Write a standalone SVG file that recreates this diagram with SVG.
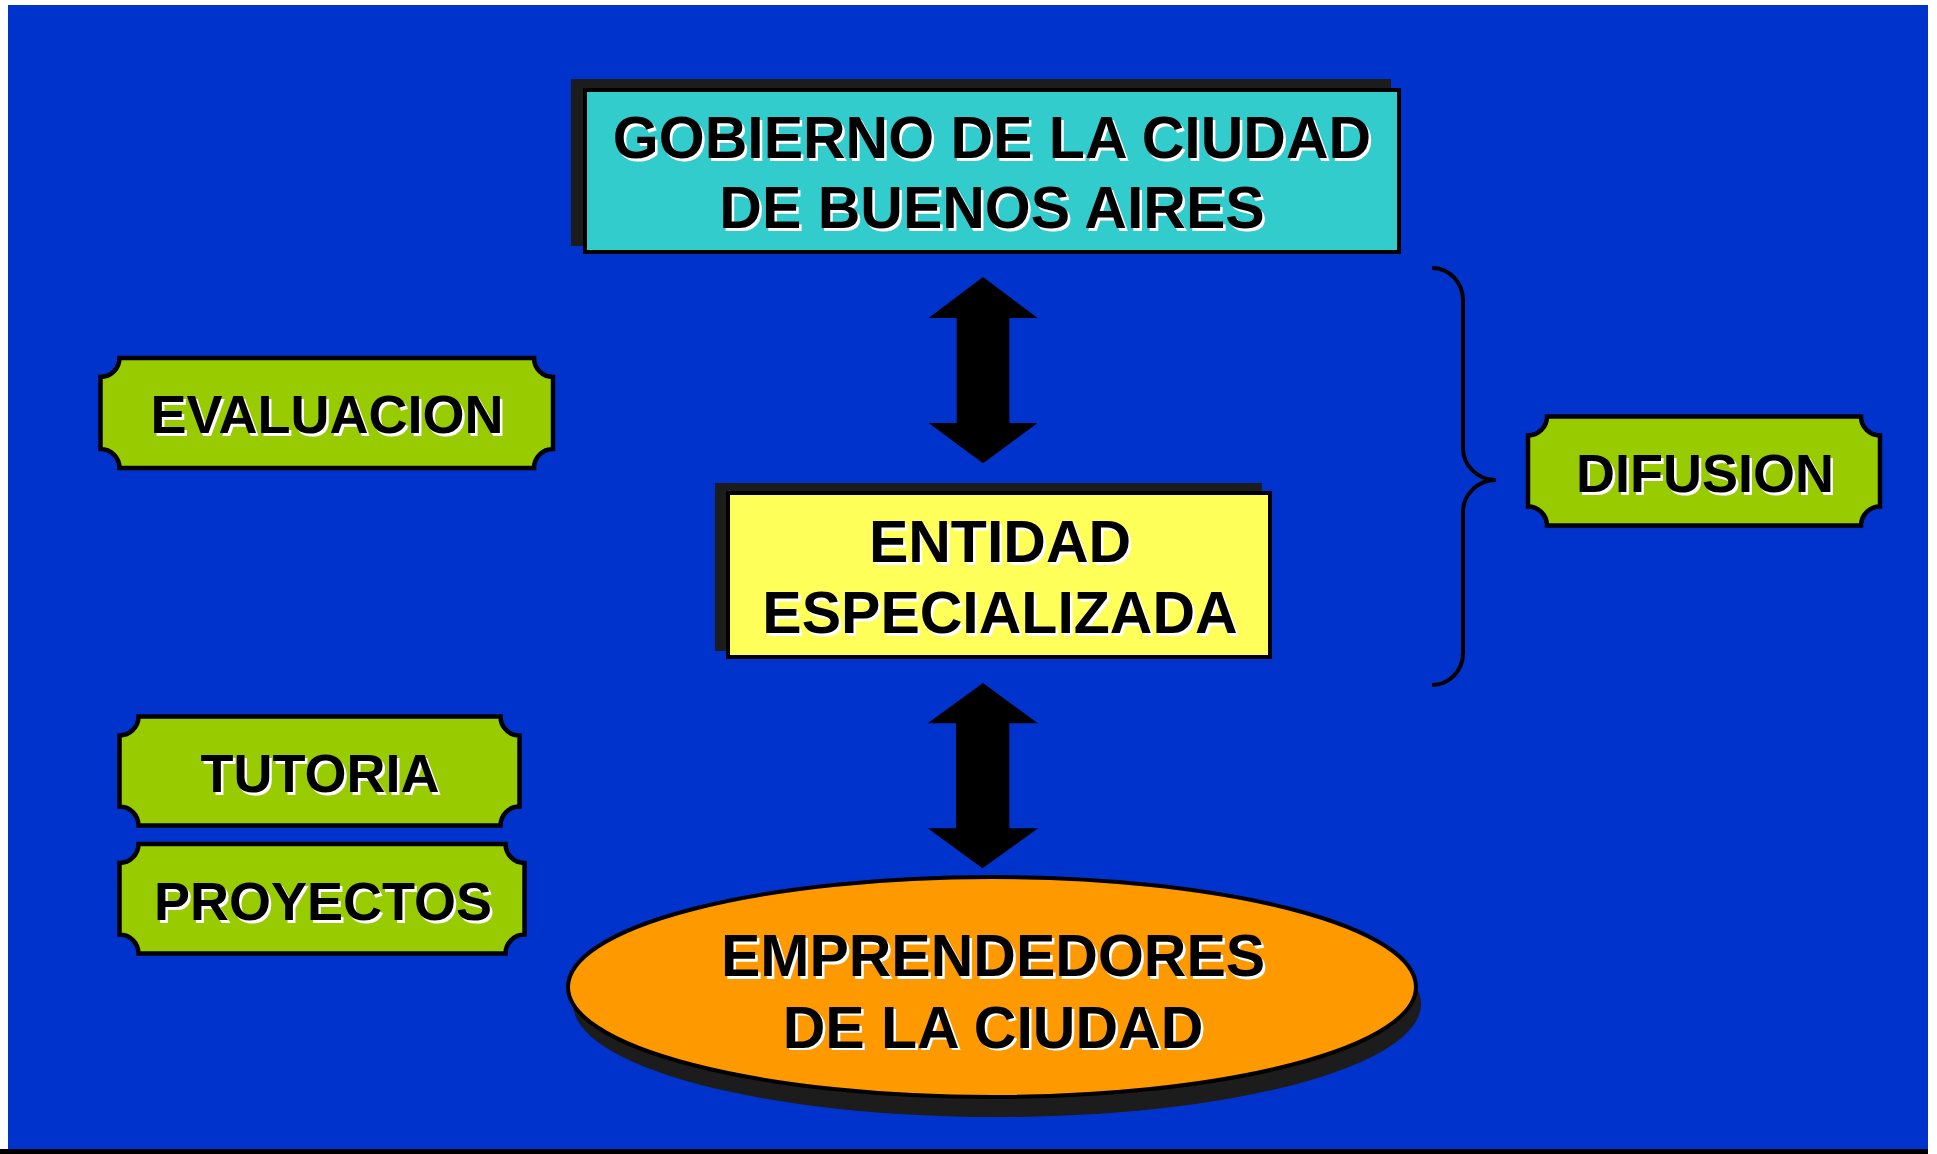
<svg xmlns="http://www.w3.org/2000/svg" width="1937" height="1154" viewBox="0 0 1937 1154">
<style>
.t{font-family:"Liberation Sans",Arial,sans-serif;font-weight:bold;text-anchor:middle;fill:#000}
.s{font-family:"Liberation Sans",Arial,sans-serif;font-weight:bold;text-anchor:middle;fill:#fff}
.big{font-size:59px}
.sm{font-size:54px}
.plaque{fill:#99CC00;stroke:#000;stroke-width:4.5}
.shadow{fill:#1C1C1C}
.arrow{fill:#000}
</style>
<rect x="0" y="0" width="1937" height="1154" fill="#ffffff"/>
<rect x="8" y="5" width="1920" height="1144" fill="#0033CC"/>
<rect x="0" y="1149" width="1928" height="5" fill="#000"/>

<g id="connectors">
<polygon class="arrow" points="983,277 1037.5,318 1009.3,318 1009.3,423 1037.5,423 983,463.3 928.6,423 956.7,423 956.7,318 928.6,318"/>
<polygon class="arrow" points="983,683 1038,723.3 1009.3,723.3 1009.3,828.3 1038,828.3 982.5,868.3 927.7,828.3 956,828.3 956,723.3 927.7,723.3"/>
<path d="M1432,268 A31,32 0 0 1 1463,300 L1463,448 A33,32 0 0 0 1496,480 A33,32 0 0 0 1463,512 L1463,653 A31,32 0 0 1 1432,685" fill="none" stroke="#000" stroke-width="4"/>
</g>

<g id="gobierno">
<rect class="shadow" x="571" y="79" width="820" height="167"/>
<rect x="585" y="90" width="814" height="162" fill="#33CCCC" stroke="#000" stroke-width="4"/>
<g transform="translate(2.5,2.5)">
<text class="s big" x="992" y="158.3">GOBIERNO DE LA CIUDAD</text>
<text class="s big" x="992" y="228.3">DE BUENOS AIRES</text>
</g>
<text class="t big" x="992" y="158.3">GOBIERNO DE LA CIUDAD</text>
<text class="t big" x="992" y="228.3">DE BUENOS AIRES</text>
</g>

<g id="entidad">
<rect class="shadow" x="715" y="483" width="547" height="168"/>
<rect x="728" y="493" width="542" height="164" fill="#FFFF5A" stroke="#000" stroke-width="4"/>
<g transform="translate(2.5,2.5)">
<text class="s big" x="1000" y="562.3">ENTIDAD</text>
<text class="s big" x="1000" y="633.3">ESPECIALIZADA</text>
</g>
<text class="t big" x="1000" y="562.3">ENTIDAD</text>
<text class="t big" x="1000" y="633.3">ESPECIALIZADA</text>
</g>

<g id="emprendedores">
<ellipse class="shadow" cx="997" cy="1004" rx="424" ry="113"/>
<ellipse cx="992" cy="987" rx="424" ry="110" fill="#FF9900" stroke="#000" stroke-width="4"/>
<g transform="translate(2.5,2.5)">
<text class="s big" x="993" y="976">EMPRENDEDORES</text>
<text class="s big" x="993" y="1047.7">DE LA CIUDAD</text>
</g>
<text class="t big" x="993" y="976">EMPRENDEDORES</text>
<text class="t big" x="993" y="1047.7">DE LA CIUDAD</text>
</g>

<g id="evaluacion">
<path class="plaque" d="M119.5,358 L534,358 A19,19 0 0 0 553,377 L553,449 A19,19 0 0 0 534,468 L119.5,468 A19,19 0 0 0 100.5,449 L100.5,377 A19,19 0 0 0 119.5,358 Z"/>
<text class="s sm" x="329.5" y="435.8">EVALUACION</text>
<text class="t sm" x="327" y="433.3">EVALUACION</text>
</g>

<g id="difusion">
<path class="plaque" d="M1547,416.5 L1861,416.5 A19,19 0 0 0 1880,435.5 L1880,506.5 A19,19 0 0 0 1861,525.5 L1547,525.5 A19,19 0 0 0 1528,506.5 L1528,435.5 A19,19 0 0 0 1547,416.5 Z"/>
<text class="s sm" x="1707.5" y="494.8">DIFUSION</text>
<text class="t sm" x="1705" y="492.3">DIFUSION</text>
</g>

<g id="tutoria">
<path class="plaque" d="M138.5,716.5 L500.5,716.5 A19,19 0 0 0 519.5,735.5 L519.5,806.5 A19,19 0 0 0 500.5,825.5 L138.5,825.5 A19,19 0 0 0 119.5,806.5 L119.5,735.5 A19,19 0 0 0 138.5,716.5 Z"/>
<text class="s sm" x="322.5" y="794.8">TUTORIA</text>
<text class="t sm" x="320" y="792.3">TUTORIA</text>
</g>

<g id="proyectos">
<path class="plaque" d="M138.5,844 L505.5,844 A19,19 0 0 0 524.5,863 L524.5,934.5 A19,19 0 0 0 505.5,953.5 L138.5,953.5 A19,19 0 0 0 119.5,934.5 L119.5,863 A19,19 0 0 0 138.5,844 Z"/>
<text class="s sm" x="325.5" y="922.5">PROYECTOS</text>
<text class="t sm" x="323" y="920">PROYECTOS</text>
</g>
</svg>
